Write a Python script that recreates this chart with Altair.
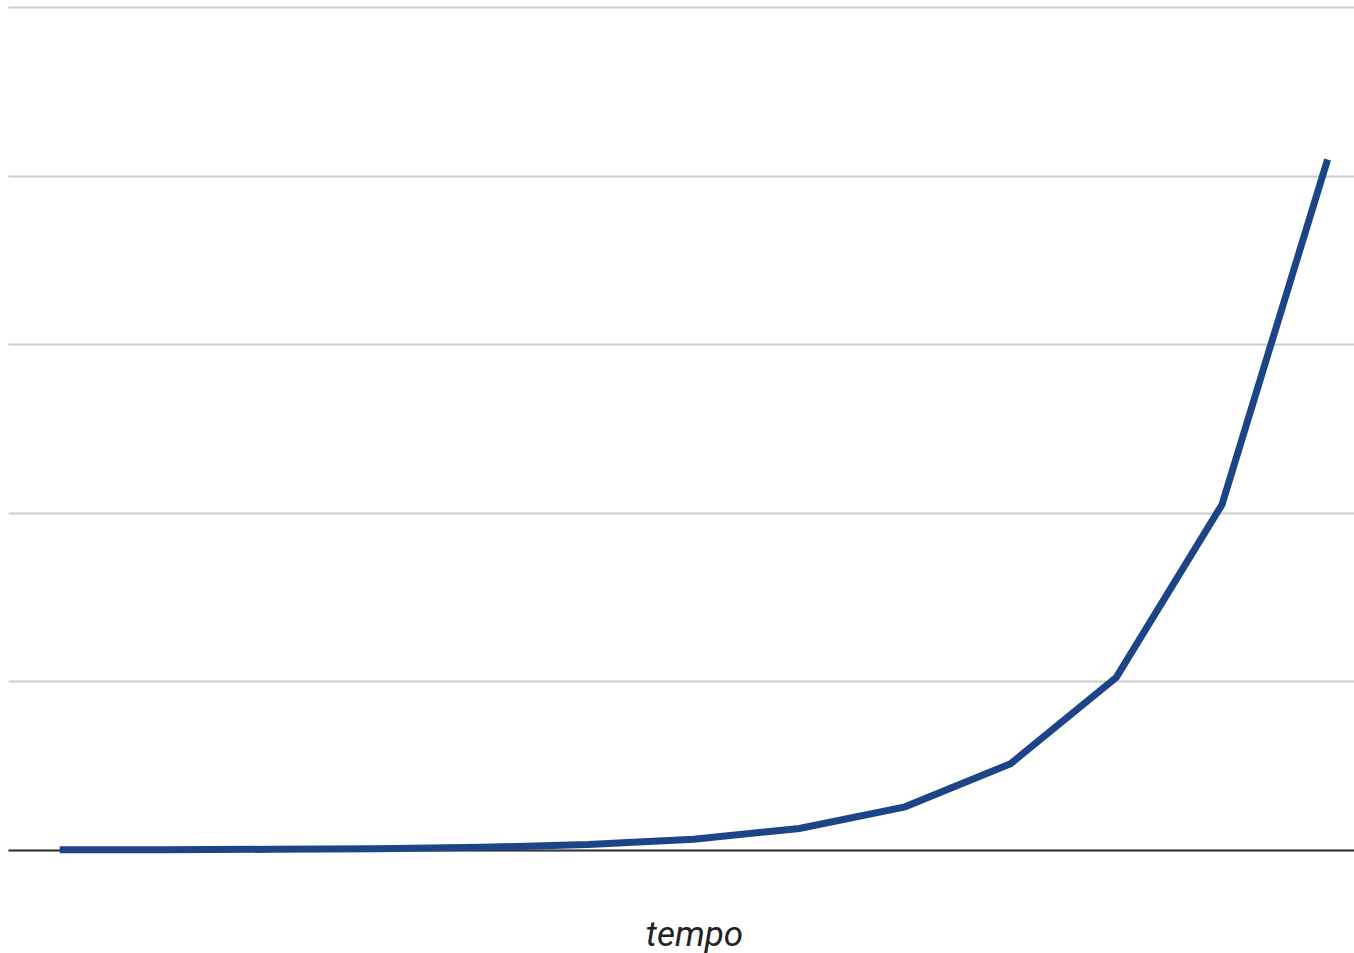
import altair as alt
import pandas as pd

# Growth series: one value per time step
steps = [0, 1, 2, 3, 4, 5, 6, 7, 8, 9, 10, 11, 12]
values = [1, 2, 4, 8, 16, 32, 64, 128, 256, 512, 1024, 2048, 4096]
grid_values = [0, 1000, 2000, 3000, 4000, 5000]

df = pd.DataFrame({"step": steps, "value": values})

line = alt.Chart(df).mark_line(
    color="#1c4587", strokeWidth=7, strokeCap="butt", strokeJoin="miter"
).encode(
    x=alt.X(
        "step:Q",
        scale=alt.Scale(domain=[-0.49, 12.25], nice=False, zero=False),
        axis=alt.Axis(
            title="tempo",
            labels=False,
            ticks=False,
            grid=False,
            domain=True,
            domainColor="#333333",
            domainWidth=2,
            titleFont="Roboto",
            titleFontStyle="italic",
            titleFontWeight="normal",
            titleFontSize=35,
            titleColor="#222222",
            titleX=686,
            titleY=95,
            titleAnchor="start",
            titleAlign="center",
            titleBaseline="alphabetic",
        ),
    ),
    y=alt.Y(
        "value:Q",
        scale=alt.Scale(domain=[0, 5000], nice=False),
        axis=alt.Axis(
            title=None,
            labels=False,
            ticks=False,
            domain=False,
            grid=True,
            values=grid_values,
            gridColor="#cccccc",
            gridWidth=2,
        ),
    ),
)

chart = line.properties(
    width=1346,
    height=843,
    background="white",
    autosize=alt.AutoSizeParams(type="none"),
    padding={"left": 8, "top": 7, "right": 0, "bottom": 103},
).configure_view(strokeWidth=0, stroke=None)

chart.save("out.html", embed_options={"renderer": "svg", "actions": False})
